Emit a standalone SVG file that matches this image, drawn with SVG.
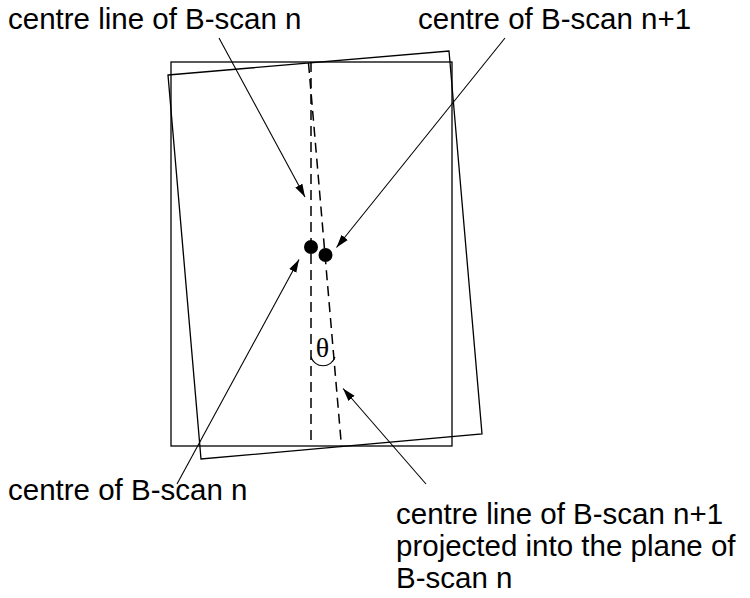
<svg xmlns="http://www.w3.org/2000/svg" width="750" height="598" viewBox="0 0 750 598">
<style>
.frame{fill:none;stroke:#000;stroke-width:1.3}
.dash{fill:none;stroke:#000;stroke-width:1.5;stroke-dasharray:10 6}
.arrow{fill:none;stroke:#000;stroke-width:1.1;marker-end:url(#ah)}
.lbl{font-family:"Liberation Sans",Arial,sans-serif;font-size:29.5px;fill:#000}
.dot{fill:#000}
</style>
<defs>
<marker id="ah" markerWidth="14" markerHeight="9" refX="13" refY="4.5" orient="auto" markerUnits="userSpaceOnUse">
<path d="M0,0.5 L13,4.5 L0,8.5 Z" fill="#000"/>
</marker>
</defs>
<g id="plane-n">
<rect class="frame" x="171" y="62" width="281" height="384"/>
<line class="dash" x1="311" y1="62" x2="311" y2="446"/>
</g>
<g id="plane-n1">
<polygon class="frame" points="168,75 449,51 482,434 201,459"/>
<line class="dash" x1="308.5" y1="63" x2="341.5" y2="446.5"/>
</g>
<g id="centre-n"><circle class="dot" cx="311" cy="247" r="7"/></g>
<g id="centre-n1"><circle class="dot" cx="325.5" cy="255" r="7"/></g>
<g id="angle">
<text x="322.5" y="357" text-anchor="middle" font-family="'Liberation Serif','Times New Roman',serif" font-size="28">θ</text>
<path d="M311,357 A12.6,12.6 0 0 0 335,357" fill="none" stroke="#000" stroke-width="1.1"/>
</g>
<g id="connectors">
<line class="arrow" x1="219" y1="38" x2="305" y2="197"/>
<line class="arrow" x1="505" y1="38" x2="336.5" y2="247.5"/>
<line class="arrow" x1="177" y1="484" x2="299" y2="259.5"/>
<line class="arrow" x1="426" y1="484" x2="343" y2="388.5"/>
</g>
<g id="label-centre-line-n"><text class="lbl" x="8" y="29">centre line of B-scan n</text></g>
<g id="label-centre-n1"><text class="lbl" x="418" y="29">centre of B-scan n+1</text></g>
<g id="label-centre-n"><text class="lbl" x="8" y="500">centre of B-scan n</text></g>
<g id="label-centre-line-n1">
<text class="lbl" x="396" y="524">centre line of B-scan n+1</text>
<text class="lbl" x="396" y="556">projected into the plane of</text>
<text class="lbl" x="396" y="588">B-scan n</text>
</g>
</svg>
